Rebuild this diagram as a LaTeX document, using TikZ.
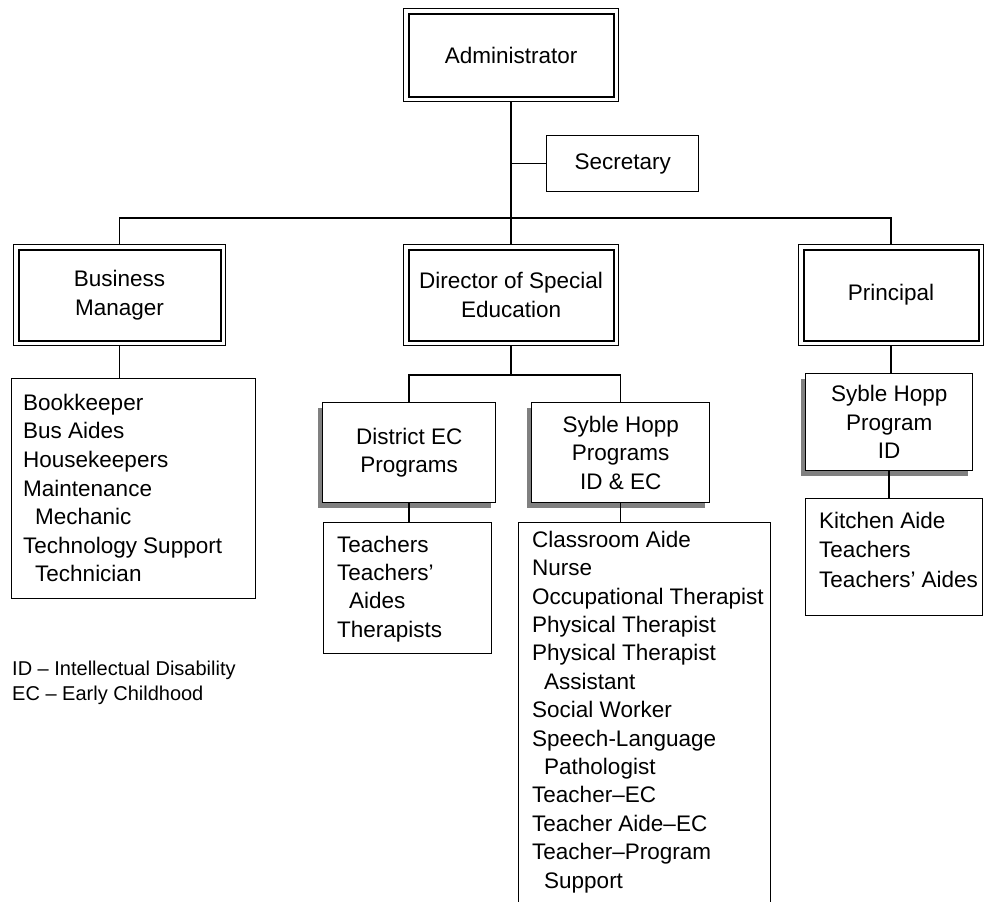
\documentclass[tikz,border=0pt]{standalone}
\usepackage{fontspec}
\setmainfont{Liberation Sans}
\usetikzlibrary{shadows}
\newcommand\orgbox[7]{\node[#2, anchor=north west, minimum width=#5pt-#3pt, minimum height=#6pt-#4pt] (#1) at (#3,#4) {#7};}
\begin{document}
\begin{tikzpicture}[x=1pt,y=-1pt,
  every node/.style={font=\fontsize{22.5}{28.5}\selectfont, inner sep=0pt},
  conn/.style={line width=1.5pt},
  dbox/.style={draw, line width=1.2pt, align=center},
  plainbox/.style={draw, line width=1.4pt, align=center},
  sbox/.style={draw, fill=white, line width=1.4pt, align=center,
    general shadow={fill=black!50, shadow xshift=-5pt, shadow yshift=-5pt}},
  lbox/.style={draw, line width=1.4pt},
  ltext/.style={anchor=north west, align=left},
  innerline/.style={line width=2pt}]
\path[use as bounding box] (0,0) rectangle (985,902);
\clip (0,0) rectangle (985,902);

% top level
\orgbox{adm}{dbox}{403}{8}{618}{101}{Administrator}
\orgbox{sec}{plainbox}{546}{135}{698}{191}{Secretary}
\orgbox{bm}{dbox}{13}{244}{225}{345}{Business\\Manager}
\orgbox{dir}{dbox}{403}{244}{618}{345}{Director of Special\\Education}
\orgbox{prin}{dbox}{798}{244}{983}{345}{Principal}
\foreach \n in {adm,bm,dir,prin}
  \draw[innerline] ([xshift=5.5pt,yshift=-5.5pt]\n.north west) rectangle ([xshift=-5.5pt,yshift=5.5pt]\n.south east);

% second level
\orgbox{dist}{sbox}{322}{402}{495}{502}{District EC\\Programs}
\orgbox{shp}{sbox}{531}{402}{709}{502}{Syble Hopp\\Programs\\ID \& EC}
\orgbox{shid}{sbox}{805}{373}{972}{470}{Syble Hopp\\Program\\ID}

% lists
\orgbox{bml}{lbox}{11}{378}{255}{598}{}
\orgbox{distl}{lbox}{323}{522}{491}{653}{}
\orgbox{shpl}{lbox}{518}{522}{770}{915}{}
\orgbox{kit}{lbox}{805}{498}{982}{615}{}

\node[ltext, font=\fontsize{22.5}{28.6}\selectfont] (bmt) at (23,393)
 {\rule{0pt}{17pt}Bookkeeper\\Bus Aides\\Housekeepers\\Maintenance\\\hspace*{12pt}Mechanic\\Technology Support\\\hspace*{12pt}Technician};
\node[ltext, font=\fontsize{22.5}{28.3}\selectfont] (distt) at (337,535)
 {\rule{0pt}{17pt}Teachers\\Teachers’\\\hspace*{12pt}Aides\\Therapists};
\node[ltext, font=\fontsize{22.5}{28.4}\selectfont] (shpt) at (532,530)
 {\rule{0pt}{17pt}Classroom Aide\\Nurse\\Occupational Therapist\\Physical Therapist\\Physical Therapist\\\hspace*{12pt}Assistant\\Social Worker\\Speech-Language\\\hspace*{12pt}Pathologist\\Teacher–EC\\Teacher Aide–EC\\Teacher–Program\\\hspace*{12pt}Support};
\node[ltext, font=\fontsize{22.5}{29.5}\selectfont] (kitt) at (819,511)
 {\rule{0pt}{17pt}Kitchen Aide\\Teachers\\Teachers’ Aides};

% legend
\node[ltext, font=\fontsize{20}{25}\selectfont] (legend) at (12,660)
 {\rule{0pt}{15pt}ID – Intellectual Disability\\EC – Early Childhood};

% connectors
\coordinate (hub) at (511,218);
\coordinate (dsplit) at (511,375);
\draw[conn] (adm.south) -- (dir.north);
\draw[conn] (sec.west) -- (sec.west -| adm.south);
\draw[conn] (bm.north) |- (hub) -| (prin.north);
\draw[conn] (dir.south) -- (dir.south |- dsplit);
\draw[conn] (dist.north) |- (dsplit) -| (shp.north);
\draw[conn] (bm.south) -- (bm.south |- bml.north);
\draw[conn] (dist.south) -- (dist.south |- distl.north);
\draw[conn] (shp.south) -- (shp.south |- shpl.north);
\draw[conn] (prin.south) -- (prin.south |- shid.north);
\draw[conn] (shid.south) -- (shid.south |- kit.north);
\end{tikzpicture}
\end{document}
